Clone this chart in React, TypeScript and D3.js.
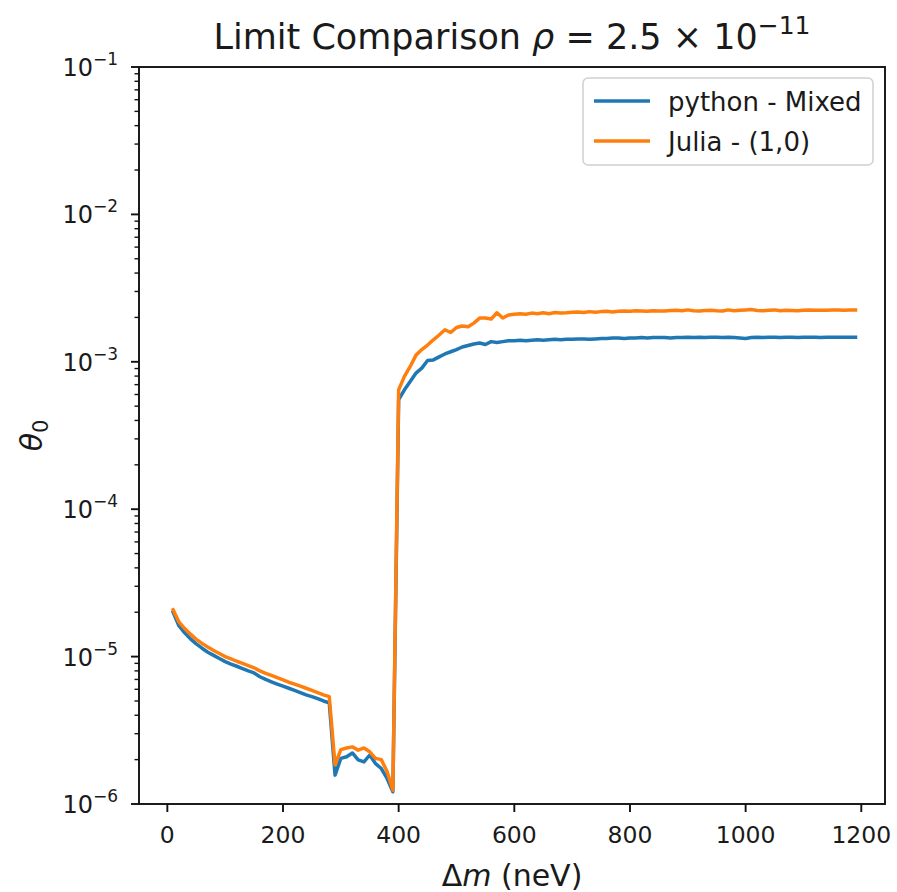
import React from "react";
import * as d3 from "d3";

const xValues = [10,20,30,40,50,60,70,80,90,100,110,120,130,140,150,160,170,180,190,200,210,220,230,240,250,260,270,280,290,300,310,320,330,340,350,360,370,380,390,400,410,420,430,440,450,460,470,480,490,500,510,520,530,540,550,560,570,580,590,600,610,620,630,640,650,660,670,680,690,700,710,720,730,740,750,760,770,780,790,800,810,820,830,840,850,860,870,880,890,900,910,920,930,940,950,960,970,980,990,1000,1010,1020,1030,1040,1050,1060,1070,1080,1090,1100,1110,1120,1130,1140,1150,1160,1170,1180,1190];

const pythonMixed = [
  2.0e-5, 1.62e-5, 1.45e-5, 1.32e-5, 1.22e-5, 1.14e-5, 1.07e-5, 1.02e-5, 9.7e-6, 9.25e-6,
  8.9e-6, 8.6e-6, 8.3e-6, 8.0e-6, 7.75e-6, 7.3e-6, 7.0e-6, 6.75e-6, 6.5e-6, 6.3e-6,
  6.1e-6, 5.9e-6, 5.7e-6, 5.5e-6, 5.35e-6, 5.18e-6, 5.0e-6, 4.85e-6,
  1.57e-6, 2.04e-6, 2.09e-6, 2.22e-6, 1.99e-6, 1.93e-6, 2.15e-6, 1.88e-6, 1.74e-6, 1.49e-6, 1.21e-6,
  5.53e-4, 6.46e-4, 7.36e-4, 8.38e-4, 9.06e-4, 1.02e-3, 1.03e-3, 1.08e-3, 1.13e-3, 1.17e-3,
  1.21e-3, 1.26e-3, 1.29e-3, 1.32e-3, 1.34e-3, 1.31e-3, 1.37e-3, 1.35e-3, 1.37e-3, 1.39e-3,
  1.39e-3, 1.40e-3, 1.39e-3, 1.40e-3, 1.41e-3, 1.40e-3, 1.41e-3, 1.42e-3, 1.41e-3, 1.42e-3,
  1.42e-3, 1.43e-3, 1.43e-3, 1.42e-3, 1.43e-3, 1.44e-3, 1.44e-3, 1.45e-3, 1.45e-3, 1.44e-3,
  1.45e-3, 1.45e-3, 1.46e-3, 1.45e-3, 1.46e-3, 1.46e-3, 1.46e-3, 1.45e-3, 1.46e-3, 1.46e-3,
  1.47e-3, 1.46e-3, 1.47e-3, 1.46e-3, 1.47e-3, 1.47e-3, 1.46e-3, 1.47e-3, 1.46e-3, 1.45e-3,
  1.44e-3, 1.46e-3, 1.47e-3, 1.46e-3, 1.47e-3, 1.47e-3, 1.46e-3, 1.47e-3, 1.47e-3, 1.46e-3,
  1.47e-3, 1.47e-3, 1.47e-3, 1.46e-3, 1.47e-3, 1.47e-3, 1.47e-3, 1.47e-3, 1.47e-3, 1.47e-3,
];

const juliaTen = [
  2.08e-5, 1.72e-5, 1.55e-5, 1.42e-5, 1.31e-5, 1.23e-5, 1.16e-5, 1.10e-5, 1.05e-5, 1.0e-5,
  9.65e-6, 9.3e-6, 9.0e-6, 8.7e-6, 8.4e-6, 8.0e-6, 7.7e-6, 7.45e-6, 7.2e-6, 6.95e-6,
  6.7e-6, 6.5e-6, 6.3e-6, 6.1e-6, 5.9e-6, 5.7e-6, 5.5e-6, 5.35e-6,
  1.84e-6, 2.34e-6, 2.40e-6, 2.44e-6, 2.32e-6, 2.40e-6, 2.26e-6, 2.04e-6, 2.00e-6, 1.66e-6, 1.24e-6,
  6.46e-4, 7.96e-4, 9.30e-4, 1.11e-3, 1.21e-3, 1.30e-3, 1.41e-3, 1.52e-3, 1.65e-3, 1.58e-3,
  1.71e-3, 1.75e-3, 1.73e-3, 1.83e-3, 1.98e-3, 1.98e-3, 1.95e-3, 2.15e-3, 1.98e-3, 2.08e-3,
  2.10e-3, 2.12e-3, 2.10e-3, 2.14e-3, 2.12e-3, 2.15e-3, 2.12e-3, 2.16e-3, 2.14e-3, 2.15e-3,
  2.17e-3, 2.18e-3, 2.16e-3, 2.19e-3, 2.17e-3, 2.19e-3, 2.20e-3, 2.18e-3, 2.20e-3, 2.21e-3,
  2.20e-3, 2.22e-3, 2.21e-3, 2.20e-3, 2.22e-3, 2.21e-3, 2.21e-3, 2.23e-3, 2.24e-3, 2.22e-3,
  2.25e-3, 2.22e-3, 2.21e-3, 2.23e-3, 2.24e-3, 2.22e-3, 2.21e-3, 2.25e-3, 2.22e-3, 2.24e-3,
  2.25e-3, 2.26e-3, 2.23e-3, 2.22e-3, 2.24e-3, 2.25e-3, 2.22e-3, 2.24e-3, 2.23e-3, 2.22e-3,
  2.24e-3, 2.25e-3, 2.24e-3, 2.24e-3, 2.24e-3, 2.25e-3, 2.25e-3, 2.24e-3, 2.25e-3, 2.25e-3,
];

const seriesNames = ["python - Mixed", "Julia - (1,0)"];
const seriesColors = ["#1f77b4", "#ff7f0e"];
const xTicks = [0, 200, 400, 600, 800, 1000, 1200];
const yExponents = [-6, -5, -4, -3, -2, -1];

const W = 897, H = 892;
const left = 139, right = 885, top = 67, bottom = 804;
const FONT = "DejaVu Sans, sans-serif";
const FS = 23.5;

export default function App() {
  const x = d3.scaleLinear().domain([-49, 1241]).range([left, right]);
  const y = d3.scaleLog().domain([1e-6, 1e-1]).range([bottom, top]);
  const line = d3
    .line<number>()
    .x((_, i) => x(xValues[i]))
    .y((d) => y(d));
  const series = [pythonMixed, juliaTen];
  const allTicks = y.ticks();
  const minorTicks = allTicks.filter((t) => Math.abs(Math.log10(t) - Math.round(Math.log10(t))) > 1e-6);

  return (
    <svg
      width={W}
      height={H}
      style={{ position: "absolute", left: 0, top: 0, background: "#fff" }}
      fontFamily={FONT}
    >
      <rect x={0} y={0} width={W} height={H} fill="#fff" />
      <defs>
        <clipPath id="plotclip">
          <rect x={left} y={top} width={right - left} height={bottom - top} />
        </clipPath>
      </defs>

      {/* title */}
      <text x={(left + right) / 2} y={49} textAnchor="middle" fontSize={35} fill="#1a1a1a">
        Limit Comparison <tspan fontStyle="italic">ρ</tspan> = 2.5 × 10
        <tspan dy={-15} fontSize={25}>−11</tspan>
      </text>

      {/* lines */}
      <g clipPath="url(#plotclip)">
        {series.map((s, k) => (
          <path
            key={k}
            d={line(s) || ""}
            fill="none"
            stroke={seriesColors[k]}
            strokeWidth={3.5}
            strokeLinejoin="round"
            strokeLinecap="square"
          />
        ))}
      </g>

      {/* frame */}
      <rect x={left} y={top} width={right - left} height={bottom - top} fill="none" stroke="#111" strokeWidth={1.9} />

      {/* x ticks */}
      {xTicks.map((t) => (
        <g key={t}>
          <line x1={x(t)} x2={x(t)} y1={bottom} y2={bottom + 8} stroke="#111" strokeWidth={1.9} />
          <text x={x(t)} y={bottom + 39} textAnchor="middle" fontSize={FS} fill="#1a1a1a">
            {t}
          </text>
        </g>
      ))}

      {/* y ticks */}
      {yExponents.map((e) => (
        <g key={e}>
          <line x1={left - 8} x2={left} y1={y(Math.pow(10, e))} y2={y(Math.pow(10, e))} stroke="#111" strokeWidth={1.9} />
          <text x={118} y={y(Math.pow(10, e)) + 9} textAnchor="end" fontSize={FS + 0.5} fill="#1a1a1a">
            10<tspan dy={-11} fontSize={17}>{"−" + Math.abs(e)}</tspan>
          </text>
        </g>
      ))}
      {minorTicks.map((t, i) => (
        <line key={i} x1={left - 4.5} x2={left} y1={y(t)} y2={y(t)} stroke="#111" strokeWidth={1.4} />
      ))}

      {/* axis labels */}
      <text x={(left + right) / 2} y={886} textAnchor="middle" fontSize={30} fill="#1a1a1a">
        Δ<tspan fontStyle="italic">m</tspan> (neV)
      </text>
      <text
        transform={`translate(42, ${(top + bottom) / 2}) rotate(-90)`}
        textAnchor="middle"
        fontSize={30}
        fill="#1a1a1a"
      >
        <tspan fontStyle="italic">θ</tspan>
        <tspan dy={6} fontSize={21}>0</tspan>
      </text>

      {/* legend */}
      <rect x={583} y={78} width={290} height={87} rx={5} fill="#fff" fillOpacity={0.8} stroke="#d0d0d0" strokeWidth={1.5} />
      {seriesNames.map((n, k) => (
        <g key={n}>
          <line x1={594} x2={650} y1={101 + k * 40} y2={101 + k * 40} stroke={seriesColors[k]} strokeWidth={3.5} />
          <text x={668} y={101 + k * 40 + 9.5} fontSize={26} fill="#1a1a1a">
            {n}
          </text>
        </g>
      ))}
    </svg>
  );
}
